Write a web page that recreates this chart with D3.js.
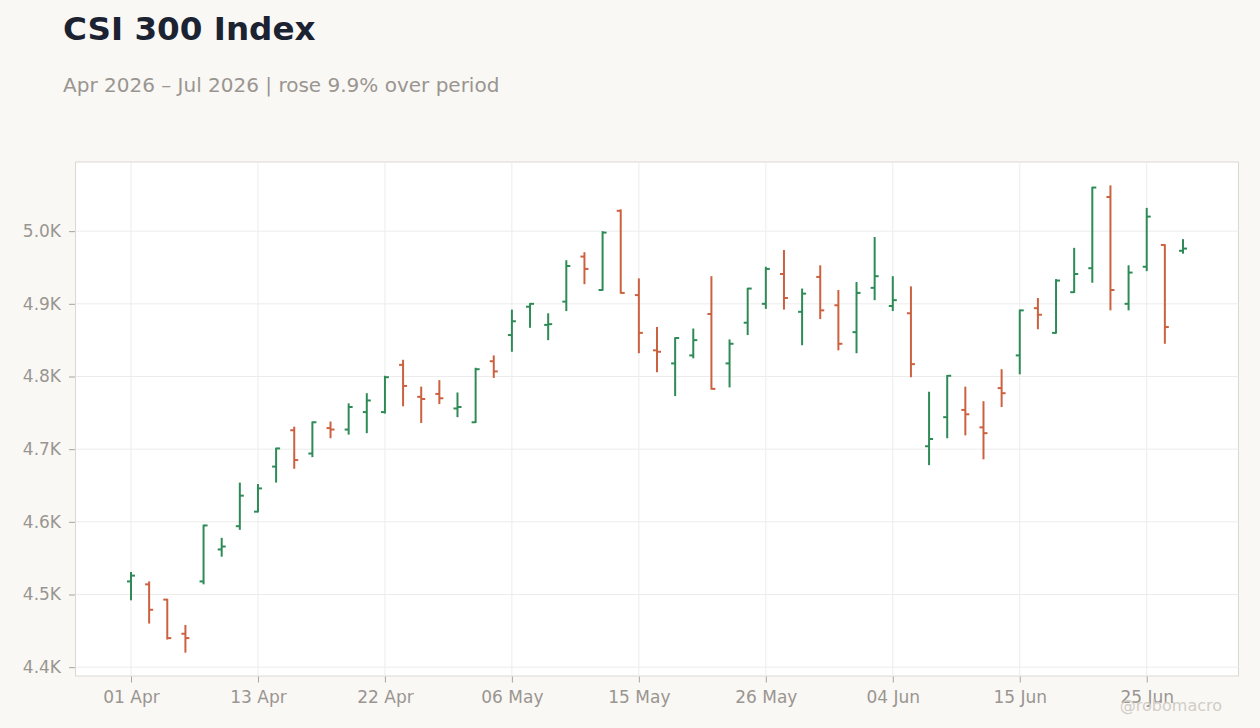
<!DOCTYPE html>
<html>
<head>
<meta charset="utf-8">
<script src="https://cdn.jsdelivr.net/npm/d3@7"></script>
<style>
	html, body { margin: 0; padding: 0; background: #f9f8f5; }
	body { width: 1260px; height: 728px; overflow: hidden; font-family: "DejaVu Sans", sans-serif; }
</style>
</head>
<body>
<div id="chartBox"></div>
<script>
// trading days
var dates = [
	"2026-04-01","2026-04-02","2026-04-03","2026-04-07","2026-04-08","2026-04-09","2026-04-10",
	"2026-04-13","2026-04-14","2026-04-15","2026-04-16","2026-04-17","2026-04-20","2026-04-21",
	"2026-04-22","2026-04-23","2026-04-24","2026-04-27","2026-04-28","2026-04-29","2026-04-30",
	"2026-05-06","2026-05-07","2026-05-08","2026-05-11","2026-05-12","2026-05-13","2026-05-14",
	"2026-05-15","2026-05-18","2026-05-19","2026-05-20","2026-05-21","2026-05-22","2026-05-25",
	"2026-05-26","2026-05-27","2026-05-28","2026-05-29","2026-06-01","2026-06-02","2026-06-03",
	"2026-06-04","2026-06-05","2026-06-08","2026-06-09","2026-06-10","2026-06-11","2026-06-12",
	"2026-06-15","2026-06-16","2026-06-17","2026-06-18","2026-06-22","2026-06-23","2026-06-24",
	"2026-06-25","2026-06-26","2026-06-29"
];
var opens = [
	4518,4514,4493,4446,4518,4562,4594,4614,4676,4726,4694,4729,4727,4751,4751,4816,4772,4776,4756,4737,
	4821,4857,4896,4871,4903,4965,4919,5028,4912,4836,4818,4829,4886,4818,4874,4900,4941,4889,4937,4898,
	4861,4922,4897,4887,4704,4744,4754,4730,4784,4829,4894,4860,4916,4949,5047,4900,4951,4981,4973
];
var highs = [
	4531,4518,4494,4458,4596,4578,4654,4652,4702,4731,4738,4738,4763,4777,4801,4823,4786,4795,4778,4812,
	4829,4892,4901,4887,4960,4971,5000,5030,4935,4868,4854,4866,4938,4851,4922,4951,4974,4921,4953,4919,
	4930,4992,4938,4924,4779,4802,4786,4766,4810,4892,4908,4934,4977,5061,5063,4953,5032,4982,4989
];
var lows = [
	4492,4460,4438,4420,4514,4552,4589,4613,4654,4673,4689,4715,4720,4722,4749,4759,4736,4762,4744,4736,
	4798,4834,4867,4850,4890,4927,4918,4914,4832,4806,4773,4825,4782,4785,4857,4893,4892,4843,4879,4836,
	4832,4905,4890,4799,4678,4715,4719,4686,4758,4803,4865,4859,4915,4929,4891,4891,4945,4845,4969
];
var closes = [
	4526,4479,4440,4440,4595,4566,4636,4646,4701,4685,4737,4727,4758,4767,4799,4787,4769,4770,4758,4810,
	4807,4876,4900,4872,4952,4948,4998,4915,4860,4834,4853,4850,4783,4845,4921,4948,4908,4914,4891,4845,
	4915,4938,4905,4817,4714,4801,4748,4722,4777,4891,4885,4932,4941,5060,4919,4943,5020,4868,4976
];
var yTicks = [4400, 4500, 4600, 4700, 4800, 4900, 5000];
var xTickEvery = 7;

var titleText = "CSI 300 Index";
var subtitleText = "Apr 2026 \u2013 Jul 2026 | rose 9.9% over period";
var creditText = "@robomacro";

(function(d3){
	var W = 1260, H = 728;
	var plot = { left: 75.5, top: 162, right: 1238.5, bottom: 676 };
	var upColor = "#2e8b57", downColor = "#cc6140";
	var muted = "#9a9590";

	var parse = d3.timeParse("%Y-%m-%d");
	var fmtDay = d3.timeFormat("%d %b");

	var rows = dates.map(function(d, i){
		return { date: parse(d), key: d, o: opens[i], h: highs[i], l: lows[i], c: closes[i] };
	});

	var svg = d3.select("#chartBox").append("svg")
		.attr("width", W).attr("height", H)
		.style("display", "block");

	svg.append("rect").attr("width", W).attr("height", H).attr("fill", "#f9f8f5");

	// title
	svg.append("text").attr("x", 63).attr("y", 40)
		.attr("font-size", 32.6).attr("font-weight", "bold").attr("fill", "#1b2333")
		.text(titleText);
	svg.append("text").attr("x", 63).attr("y", 92)
		.attr("font-size", 20).attr("fill", muted)
		.text(subtitleText);

	// scales
	var lo = d3.min(lows), hi = d3.max(highs), pad = (hi - lo) * 0.05;
	var y = d3.scaleLinear().domain([lo - pad, hi + pad]).range([plot.bottom, plot.top]);
	var x = d3.scalePoint().domain(dates).range([plot.left, plot.right]).padding(3.06);

	// plot background
	svg.append("rect")
		.attr("x", plot.left).attr("y", plot.top)
		.attr("width", plot.right - plot.left).attr("height", plot.bottom - plot.top)
		.attr("fill", "#ffffff").attr("stroke", "#dcd8d0").attr("stroke-width", 1);

	var xTickKeys = dates.filter(function(d, i){ return i % xTickEvery === 0; });

	// grid
	var grid = svg.append("g").attr("stroke", "#ececec").attr("stroke-width", 1);
	grid.selectAll("line.h").data(yTicks).enter().append("line")
		.attr("x1", plot.left).attr("x2", plot.right)
		.attr("y1", function(d){ return y(d); }).attr("y2", function(d){ return y(d); });
	grid.selectAll("line.v").data(xTickKeys).enter().append("line")
		.attr("y1", plot.top).attr("y2", plot.bottom)
		.attr("x1", function(d){ return x(d); }).attr("x2", function(d){ return x(d); });

	// axes
	var yAxis = d3.axisLeft(y).tickValues(yTicks).tickSize(6).tickPadding(8)
		.tickFormat(function(d){ return (d / 1000).toFixed(1) + "K"; });
	var gy = svg.append("g").attr("transform", "translate(" + (plot.left - 0.5) + ",0)").call(yAxis);

	var xAxis = d3.axisBottom(x).tickValues(xTickKeys).tickSize(6).tickPadding(8)
		.tickFormat(function(d){ return fmtDay(parse(d)); });
	var gx = svg.append("g").attr("transform", "translate(0," + (plot.bottom + 0.5) + ")").call(xAxis);

	[gy, gx].forEach(function(g){
		g.select(".domain").remove();
		g.selectAll(".tick line").attr("stroke", "#a8a49e");
		g.selectAll(".tick text").attr("fill", muted).attr("font-size", 17)
			.attr("font-family", "DejaVu Sans, sans-serif");
	});

	// OHLC bars
	var bars = svg.append("g").selectAll("g").data(rows).enter().append("g")
		.attr("stroke", function(d){ return d.c >= d.o ? upColor : downColor; })
		.attr("stroke-width", 2);
	bars.append("line")
		.attr("x1", function(d){ return x(d.key); }).attr("x2", function(d){ return x(d.key); })
		.attr("y1", function(d){ return y(d.h); }).attr("y2", function(d){ return y(d.l); });
	bars.append("line")
		.attr("x1", function(d){ return x(d.key) - 4; }).attr("x2", function(d){ return x(d.key); })
		.attr("y1", function(d){ return y(d.o); }).attr("y2", function(d){ return y(d.o); });
	bars.append("line")
		.attr("x1", function(d){ return x(d.key); }).attr("x2", function(d){ return x(d.key) + 4; })
		.attr("y1", function(d){ return y(d.c); }).attr("y2", function(d){ return y(d.c); });

	// credit (overlaps the last date label, as in the reference)
	svg.append("text").attr("x", 1222).attr("y", 711)
		.attr("text-anchor", "end").attr("font-size", 16).attr("fill", "#d2cdc6")
		.text(creditText);
})(d3);
</script>
</body>
</html>
